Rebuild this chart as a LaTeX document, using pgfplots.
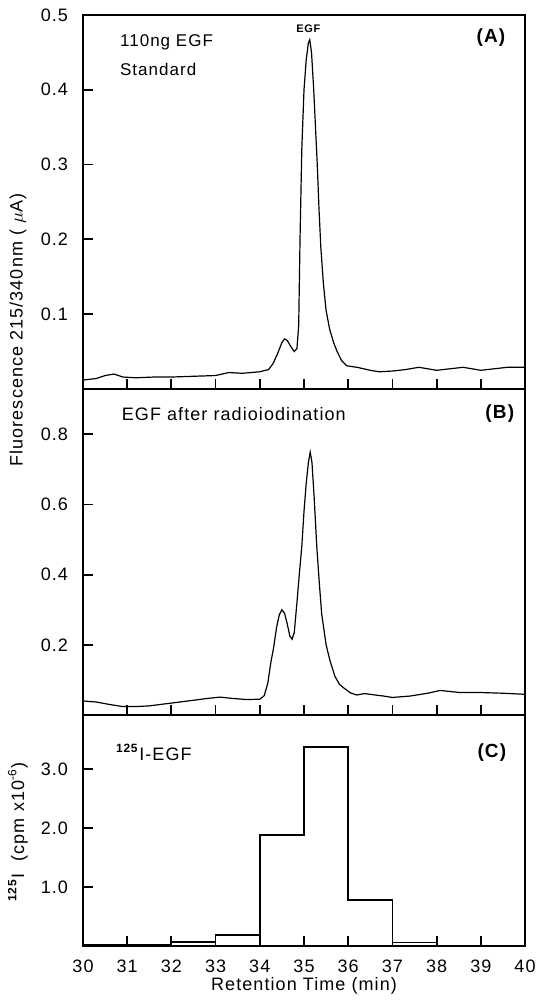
\documentclass[border=0pt]{standalone}
\usepackage{pgfplots}
\pgfplotsset{compat=1.18}
\usepackage{fontspec}
\setmainfont{Liberation Sans}[LetterSpace=6]
\begin{document}
\begin{tikzpicture}
\useasboundingbox (0,0) rectangle (268.5pt,504pt);
\pgfplotsset{
  every axis/.append style={
    scale only axis, width=221pt,
    xmin=30, xmax=40,
    xtick={30,31,...,40},
    tick align=inside, xtick pos=bottom, ytick pos=left,
    major tick length=5pt,
    every tick/.style={black, line width=0.9pt},
    axis line style={line width=1pt},
    tick label style={font=\fontsize{9}{10}\selectfont},
    /pgf/number format/assume math mode=true,
    yticklabel style={xshift=-4pt},
    clip=false,
  },
  curve/.style={black, line width=0.6pt, mark=none},
}
% ---------------- Panel A ----------------
\begin{axis}[
  at={(41.5pt,309.5pt)}, anchor=south west, height=187pt,
  ymin=0, ymax=0.5, ytick={0.1,0.2,0.3,0.4,0.5},
  yticklabel style={/pgf/number format/.cd, fixed, precision=1},
  xticklabels={},
]
\addplot[curve] coordinates {
(30.0,0.012)(30.3,0.014)(30.5,0.018)(30.7,0.020)(30.9,0.016)(31.2,0.015)(31.6,0.016)
(32.0,0.016)(32.5,0.017)(33.0,0.018)(33.3,0.022)(33.6,0.021)(34.0,0.023)(34.2,0.026)
(34.3,0.034)(34.4,0.047)(34.5,0.062)(34.56,0.067)(34.62,0.065)(34.7,0.057)(34.78,0.050)
(34.84,0.054)(34.88,0.085)(34.91,0.20)(34.95,0.32)(35.0,0.40)(35.05,0.44)(35.1,0.463)
(35.13,0.467)(35.17,0.45)(35.22,0.40)(35.26,0.35)(35.3,0.30)(35.34,0.24)(35.38,0.19)
(35.44,0.14)(35.5,0.105)(35.58,0.080)(35.67,0.062)(35.75,0.050)(35.85,0.038)(35.97,0.031)
(36.2,0.029)(36.5,0.025)(36.7,0.023)(37.0,0.024)(37.3,0.026)(37.6,0.029)(38.0,0.025)
(38.3,0.027)(38.6,0.029)(39.0,0.025)(39.3,0.027)(39.6,0.029)(40.0,0.029)
};
\node[anchor=west, font=\fontsize{8.5}{10}\selectfont] at (axis cs:30.68,0.463) {110ng EGF};
\node[anchor=west, font=\fontsize{8.5}{10}\selectfont] at (axis cs:30.68,0.427) {Standard};
\node[font=\fontsize{9.5}{10}\selectfont\bfseries] at (axis cs:39.23,0.47) {(A)};
\node[font=\fontsize{5.5}{6}\selectfont\bfseries] at (axis cs:35.1,0.481) {EGF};
\end{axis}
% ---------------- Panel B ----------------
\begin{axis}[
  at={(41.5pt,146.5pt)}, anchor=south west, height=163pt,
  ymin=0, ymax=0.929, ytick={0.2,0.4,0.6,0.8},
  yticklabel style={/pgf/number format/.cd, fixed, precision=1},
  xticklabels={},
]
\addplot[curve] coordinates {
(30.0,0.040)(30.3,0.037)(30.6,0.030)(30.9,0.024)(31.2,0.024)(31.5,0.026)(32.0,0.034)
(32.5,0.042)(32.8,0.047)(33.1,0.051)(33.4,0.047)(33.7,0.044)(34.0,0.045)(34.1,0.055)
(34.18,0.09)(34.25,0.15)(34.31,0.19)(34.38,0.25)(34.44,0.285)(34.5,0.300)(34.56,0.290)
(34.62,0.26)(34.68,0.225)(34.73,0.216)(34.78,0.235)(34.84,0.32)(34.9,0.41)(34.95,0.48)
(35.0,0.58)(35.05,0.66)(35.1,0.72)(35.14,0.749)(35.18,0.72)(35.23,0.62)(35.29,0.478)
(35.35,0.37)(35.4,0.288)(35.5,0.200)(35.59,0.154)(35.7,0.110)(35.8,0.088)(35.89,0.078)
(36.05,0.063)(36.19,0.057)(36.37,0.061)(36.55,0.058)(36.8,0.054)(37.0,0.050)(37.4,0.054)
(37.8,0.062)(38.08,0.070)(38.3,0.067)(38.53,0.064)(39.0,0.064)(39.5,0.062)(40.0,0.059)
};
\node[anchor=west, font=\fontsize{9}{10}\selectfont] at (axis cs:30.72,0.857) {EGF after radioiodination};
\node[font=\fontsize{9.5}{10}\selectfont\bfseries] at (axis cs:39.43,0.86) {(B)};
\end{axis}
% ---------------- Panel C ----------------
\begin{axis}[
  at={(41.5pt,31pt)}, anchor=south west, height=115.5pt,
  ymin=0, ymax=3.92, ytick={1,2,3},
  yticklabel style={/pgf/number format/.cd, fixed, fixed zerofill, precision=1},
  xticklabel style={yshift=-3.5pt},
]
\addplot[black, line width=0.8pt, const plot mark left, mark=none] coordinates {
(30,0.02)(31,0.02)(32,0.07)(33,0.19)(34,1.88)(35,3.38)(36,0.78)(37,0.06)(38,0.01)(40,0.01)
};
\addplot[black, line width=0.8pt, mark=none] coordinates {(33,0)(33,0.19)};
\addplot[black, line width=0.8pt, mark=none] coordinates {(37,0)(37,0.06)};
\node[anchor=west, font=\fontsize{9}{10}\selectfont] at (axis cs:30.59,3.29) {\textsuperscript{\textbf{125}}I-EGF};
\node[font=\fontsize{9.5}{10}\selectfont\bfseries] at (axis cs:39.25,3.29) {(C)};
\end{axis}
% ---------------- shared labels ----------------
\node[rotate=90, font=\fontsize{9}{10}\selectfont] at (9pt,339pt) {Fluorescence 215/340nm ( $\mu$A)};
\node[rotate=90, font=\fontsize{9}{10}\selectfont] at (9pt,88pt) {\textsuperscript{\textbf{125}}I\ \ (cpm x10\textsuperscript{-6})};
\node[font=\fontsize{9}{10}\selectfont] at (152pt,11pt) {Retention Time (min)};
\end{tikzpicture}
\end{document}
